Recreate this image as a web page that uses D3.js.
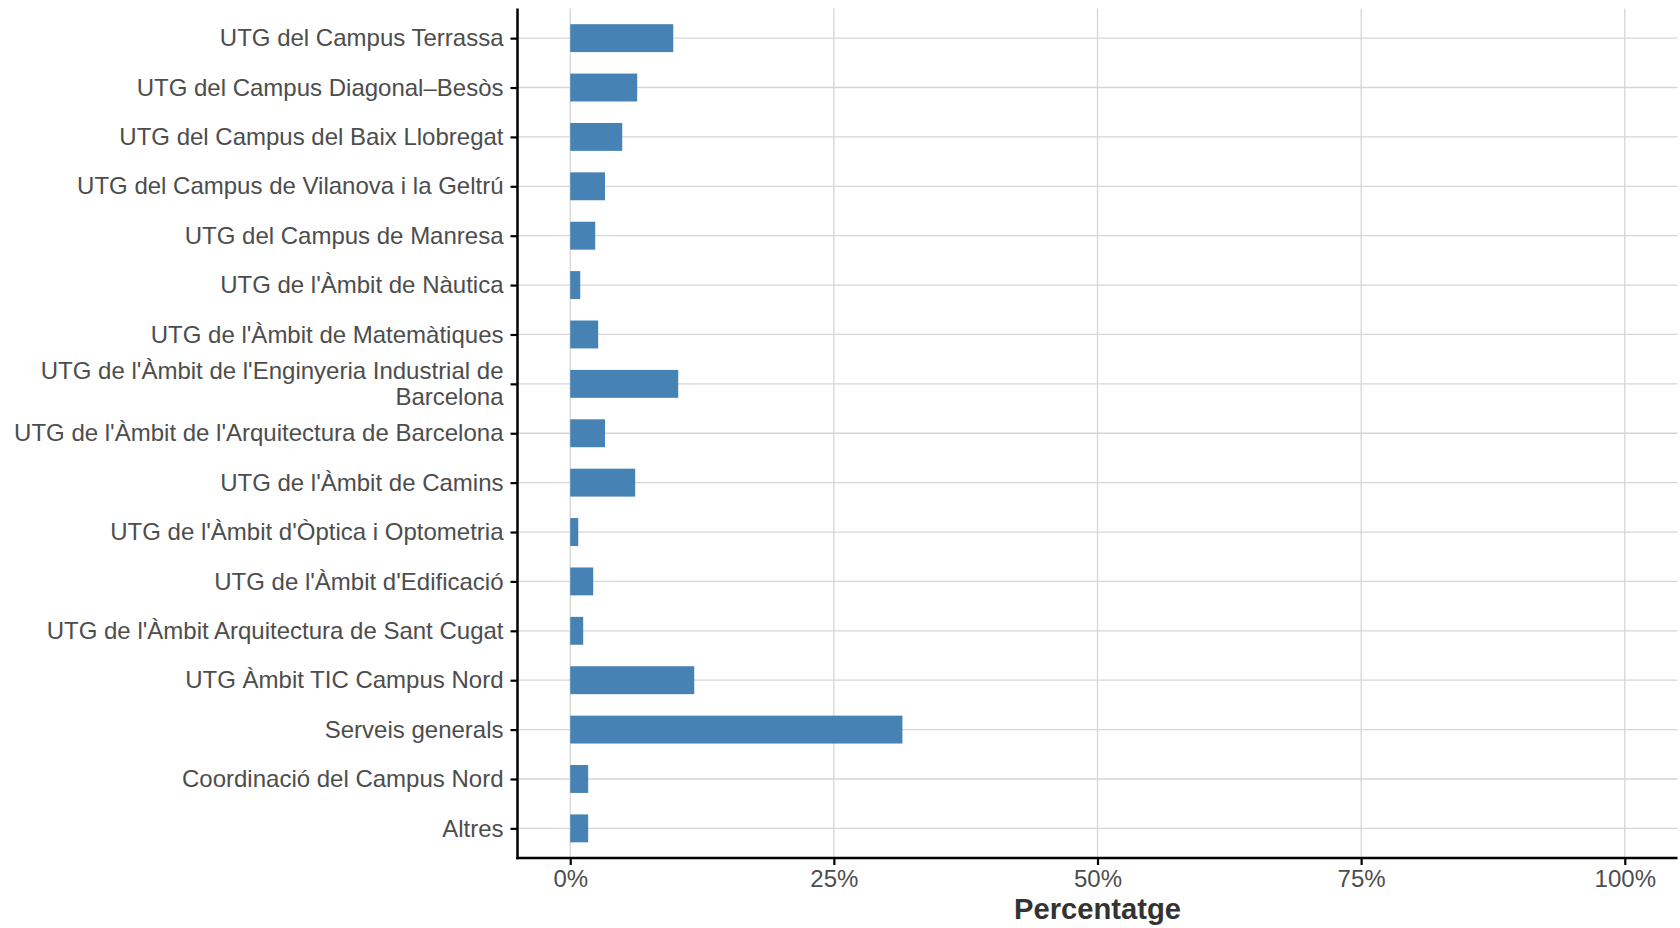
<!DOCTYPE html>
<html>
<head>
<meta charset="utf-8">
<script src="https://cdn.jsdelivr.net/npm/d3@7"></script>
<style>
  body { margin: 0; background: #fff; }
  text { font-family: "Liberation Sans", Arial, sans-serif; }
</style>
</head>
<body>
<script>
// categories from top to bottom
const categories = [
  "UTG del Campus Terrassa",
  "UTG del Campus Diagonal–Besòs",
  "UTG del Campus del Baix Llobregat",
  "UTG del Campus de Vilanova i la Geltrú",
  "UTG del Campus de Manresa",
  "UTG de l'Àmbit de Nàutica",
  "UTG de l'Àmbit de Matemàtiques",
  "UTG de l'Àmbit de l'Enginyeria Industrial de\nBarcelona",
  "UTG de l'Àmbit de l'Arquitectura de Barcelona",
  "UTG de l'Àmbit de Camins",
  "UTG de l'Àmbit d'Òptica i Optometria",
  "UTG de l'Àmbit d'Edificació",
  "UTG de l'Àmbit Arquitectura de Sant Cugat",
  "UTG Àmbit TIC Campus Nord",
  "Serveis generals",
  "Coordinació del Campus Nord",
  "Altres"
];
// percentages (0-1)
const values = [
  0.0977, 0.0635, 0.0493, 0.033, 0.0237, 0.0095, 0.0265, 0.1024,
  0.033, 0.0616, 0.0076, 0.0218, 0.0123, 0.1176, 0.315, 0.017, 0.017
];
const xTicks = [0, 0.25, 0.5, 0.75, 1];

const W = 1680, H = 928;
const pLeft = 517.5, pRight = 1677.5, pTop = 8.5, pBottom = 858;

const svg = d3.select("body").append("svg")
  .attr("width", W)
  .attr("height", H);

const x = d3.scaleLinear().domain([-0.05, 1.05]).range([pLeft, pRight]);
const y = d3.scalePoint().domain(categories).range([pTop, pBottom]).padding(0.6);
const barH = y.step() * 0.565;

// grid
const grid = svg.append("g");
grid.selectAll(".gx").data(xTicks).enter().append("line")
  .attr("x1", d => x(d)).attr("x2", d => x(d))
  .attr("y1", pTop).attr("y2", pBottom)
  .attr("stroke", "#d6d6d6").attr("stroke-width", 1.3);
grid.selectAll(".gy").data(categories).enter().append("line")
  .attr("x1", pLeft).attr("x2", pRight)
  .attr("y1", d => y(d)).attr("y2", d => y(d))
  .attr("stroke", "#d6d6d6").attr("stroke-width", 1.3);

// bars
svg.append("g").selectAll("rect")
  .data(categories)
  .enter()
  .append("rect")
  .attr("x", x(0))
  .attr("y", d => y(d) - barH / 2)
  .attr("width", (d, i) => x(values[i]) - x(0))
  .attr("height", barH)
  .attr("fill", "#4682B4");

// x axis
const xAxis = svg.append("g")
  .attr("transform", `translate(0,${pBottom})`)
  .call(d3.axisBottom(x).tickValues(xTicks).tickFormat(d3.format(".0%")).tickSize(7).tickPadding(5));
xAxis.select(".domain").remove();
xAxis.selectAll(".tick line").attr("stroke", "#000").attr("stroke-width", 2.2);
xAxis.selectAll(".tick text")
  .attr("font-size", 24)
  .attr("fill", "#4d4d4d")
  .attr("font-family", "Liberation Sans, Arial, sans-serif");

// y axis
const yAxis = svg.append("g")
  .attr("transform", `translate(${pLeft},0)`)
  .call(d3.axisLeft(y).tickSize(7).tickPadding(7));
yAxis.select(".domain").remove();
yAxis.selectAll(".tick line").attr("stroke", "#000").attr("stroke-width", 2.2);
yAxis.selectAll(".tick text")
  .attr("font-size", 24)
  .attr("fill", "#4d4d4d")
  .attr("font-family", "Liberation Sans, Arial, sans-serif")
  .attr("dy", null)
  .each(function(d) {
    const lines = d.split("\n");
    const t = d3.select(this).text(null);
    const lh = 1.07;
    lines.forEach((l, k) => {
      t.append("tspan")
        .attr("x", -14)
        .attr("dy", k === 0 ? `${0.32 - (lines.length - 1) * lh / 2}em` : `${lh}em`)
        .text(l);
    });
  });

// axis lines
svg.append("line")
  .attr("x1", pLeft).attr("x2", pLeft)
  .attr("y1", pTop).attr("y2", pBottom + 1.25)
  .attr("stroke", "#000").attr("stroke-width", 2.5);
svg.append("line")
  .attr("x1", pLeft - 1.25).attr("x2", pRight)
  .attr("y1", pBottom).attr("y2", pBottom)
  .attr("stroke", "#000").attr("stroke-width", 2.5);

// axis title
svg.append("text")
  .attr("x", (pLeft + pRight) / 2)
  .attr("y", 919)
  .attr("text-anchor", "middle")
  .attr("font-size", 29.2)
  .attr("font-weight", "bold")
  .attr("fill", "#333")
  .text("Percentatge");
</script>
</body>
</html>
